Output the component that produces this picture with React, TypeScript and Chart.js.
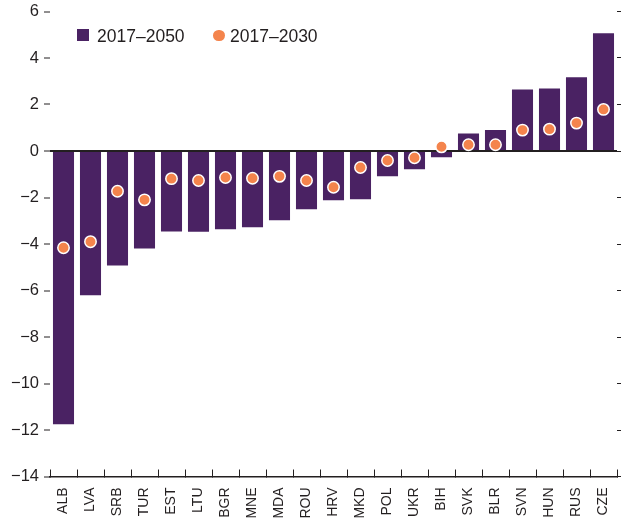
import React, { useEffect, useRef } from "react";
import { Chart, registerables } from "chart.js";

Chart.register(...registerables);

const categories = ["ALB", "LVA", "SRB", "TUR", "EST", "LTU", "BGR", "MNE", "MDA", "ROU", "HRV", "MKD", "POL", "UKR", "BIH", "SVK", "BLR", "SVN", "HUN", "RUS", "CZE"];
const values2050 = [-11.75, -6.2, -4.92, -4.19, -3.46, -3.47, -3.37, -3.28, -2.98, -2.51, -2.12, -2.08, -1.09, -0.78, -0.27, 0.75, 0.9, 2.65, 2.69, 3.17, 5.06];
const values2030 = [-4.16, -3.9, -1.73, -2.1, -1.19, -1.27, -1.14, -1.17, -1.09, -1.27, -1.56, -0.71, -0.41, -0.29, 0.18, 0.27, 0.27, 0.9, 0.94, 1.2, 1.79];
const seriesLabels = ["2017–2050", "2017–2030"];
const yMin = -14;
const yMax = 6;
const yStep = 2;

const PURPLE = "#4a2263";
const ORANGE = "#f4844c";
const TEXT = "#231f20";
const FONT = "'Liberation Sans', Arial, sans-serif";

export default function App() {
  const ref = useRef<HTMLCanvasElement | null>(null);

  useEffect(() => {
    if (!ref.current) return;
    const chart = new Chart(ref.current, {
      type: "bar",
      data: {
        labels: categories,
        datasets: [
          {
            type: "line",
            label: seriesLabels[1],
            data: values2030,
            showLine: false,
            pointRadius: 5.7,
            pointBorderWidth: 1.5,
            pointBackgroundColor: ORANGE,
            pointBorderColor: "#ffffff",
            backgroundColor: ORANGE,
            borderColor: "#ffffff",
            order: 0,
          } as any,
          {
            type: "bar",
            label: seriesLabels[0],
            data: values2050,
            backgroundColor: PURPLE,
            borderWidth: 0,
            barPercentage: 0.78,
            categoryPercentage: 1,
            order: 1,
          },
        ],
      },
      options: {
        animation: false,
        responsive: false,
        maintainAspectRatio: false,
        layout: { autoPadding: false, padding: { top: 11.5, left: 0, right: 0, bottom: 0 } },
        plugins: {
          legend: { display: false },
          tooltip: { enabled: false },
        },
        scales: {
          x: {
            offset: true,
            grid: {
              offset: true,
              drawOnChartArea: false,
              drawTicks: true,
              tickLength: -7,
              tickColor: TEXT,
              tickWidth: 1,
            },
            border: { display: true, color: TEXT, width: 1.5 },
            ticks: {
              autoSkip: false,
              minRotation: 90,
              maxRotation: 90,
              padding: 18,
              color: TEXT,
              font: { family: FONT, size: 14 },
            },
            afterFit: (s: any) => {
              s.height = 44.5;
              s.paddingLeft = 0;
              s.paddingRight = 0;
            },
          },
          y: {
            position: "left",
            min: yMin,
            max: yMax,
            border: { display: false },
            grid: {
              drawTicks: true,
              tickLength: 6,
              tickColor: TEXT,
              tickWidth: 1,
              lineWidth: (ctx: any) => (ctx.tick && ctx.tick.value === 0 ? 2 : 0),
              color: (ctx: any) => (ctx.tick && ctx.tick.value === 0 ? TEXT : "rgba(0,0,0,0)"),
            },
            ticks: {
              stepSize: yStep,
              padding: 5,
              color: TEXT,
              font: { family: FONT, size: 16.5 },
              callback: (v: any) => String(v).replace("-", "\u2212"),
            },
            afterFit: (s: any) => {
              s.width = 50;
              s.paddingTop = 0;
              s.paddingBottom = 0;
            },
          },
          y2: {
            position: "right",
            min: yMin,
            max: yMax,
            border: { display: false },
            grid: {
              drawOnChartArea: false,
              drawTicks: true,
              tickLength: 5,
              tickColor: TEXT,
              tickWidth: 1,
            },
            ticks: { stepSize: yStep, display: false },
            afterFit: (s: any) => {
              s.width = 4;
              s.paddingTop = 0;
              s.paddingBottom = 0;
            },
          },
        },
      },
    });
    return () => chart.destroy();
  }, []);

  const legendText: React.CSSProperties = {
    position: "absolute",
    top: 25,
    fontFamily: FONT,
    fontSize: 17.5,
    lineHeight: "22px",
    color: TEXT,
    whiteSpace: "nowrap",
  };

  return (
    <div style={{ position: "absolute", left: 0, top: 0, width: 621, height: 521 }}>
      <canvas ref={ref} width={621} height={521} style={{ width: 621, height: 521, display: "block" }} />
      <div style={{ position: "absolute", left: 77, top: 29, width: 12, height: 12, background: PURPLE }} />
      <div style={{ ...legendText, left: 97 }}>{seriesLabels[0]}</div>
      <div style={{ position: "absolute", left: 213, top: 29.5, width: 11.5, height: 11.5, borderRadius: "50%", background: ORANGE }} />
      <div style={{ ...legendText, left: 230 }}>{seriesLabels[1]}</div>
    </div>
  );
}
